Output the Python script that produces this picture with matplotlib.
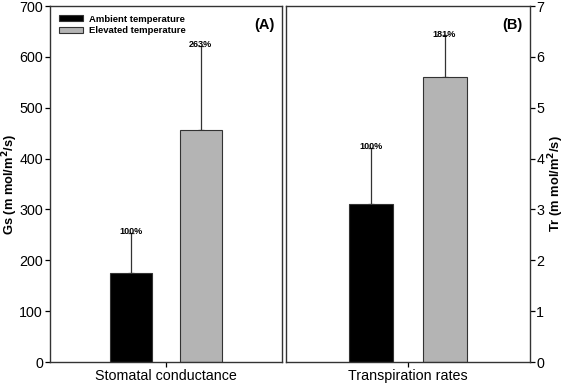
import matplotlib.pyplot as plt
import numpy as np

plt.rcParams['font.family'] = ['Liberation Sans', 'DejaVu Sans']

groups = ['Ambient temperature', 'Elevated temperature']
colors = ['black', '#b4b4b4']

gs_mean = [175, 457]
gs_err = [78, 165]
gs_pct = ['100%', '263%']

tr_mean = [3.1, 5.6]
tr_err = [1.1, 0.82]
tr_pct = ['100%', '181%']

fig = plt.figure(figsize=(5.7, 3.84), dpi=100)
ax1 = fig.add_axes([50/570, 22/384, 232/570, 356/384])
ax2 = fig.add_axes([286/570, 22/384, 244/570, 356/384])

offs = [-0.3, 0.3]
w = 0.36

def draw(ax, means, errs, pcts, ytxt):
    for i in range(2):
        ax.bar(offs[i], means[i], width=w, color=colors[i], edgecolor='#333333',
               linewidth=0.8, label=groups[i], zorder=2)
        ax.errorbar(offs[i], means[i], yerr=[[0], [errs[i]]], fmt='none',
                    ecolor='#333333', elinewidth=0.9, capsize=2.5, capthick=0.9, zorder=1)
        ax.text(offs[i], means[i] + errs[i] + ytxt, pcts[i], ha='center', va='bottom',
                fontsize=6.5, fontweight='bold')
    ax.set_xlim(-1, 1)
    ax.set_xticks([0])
    for s in ax.spines.values():
        s.set_linewidth(1.0)
        s.set_color('#333333')
    ax.tick_params(axis='both', labelsize=10.3, direction='out', length=3.5, width=0.9, pad=1.5)

draw(ax1, gs_mean, gs_err, gs_pct, -6)
ax1.set_ylim(0, 700)
ax1.set_yticks(np.arange(0, 701, 100))
ax1.set_xticklabels(['Stomatal conductance'])
ax1.set_ylabel('Gs (m mol/m$^\\mathbf{2}$/s)', fontsize=9.3, fontweight='bold')
ax1.yaxis.set_label_coords(-0.129, 0.5)
ax1.text(0.97, 0.965, '(A)', transform=ax1.transAxes, ha='right', va='top',
         fontsize=10.5, fontweight='bold')
ax1.legend(loc='upper left', frameon=False, prop={'size': 6.8, 'weight': 'bold'},
           handlelength=2.6, handleheight=0.6, handletextpad=0.6, labelspacing=0.3,
           borderaxespad=0.5, bbox_to_anchor=(0.0, 1.0))

draw(ax2, tr_mean, tr_err, tr_pct, -0.06)
ax2.set_ylim(0, 7)
ax2.set_yticks(np.arange(0, 8, 1))
ax2.yaxis.tick_right()
ax2.tick_params(axis='y', pad=1)
ax2.yaxis.set_label_position('right')
ax2.set_xticklabels(['Transpiration rates'])
ax2.set_ylabel('Tr (m mol/m$^\\mathbf{2}$/s)', fontsize=9.3, fontweight='bold', rotation=90)
ax2.yaxis.set_label_coords(1.066, 0.5)
ax2.text(0.97, 0.965, '(B)', transform=ax2.transAxes, ha='right', va='top',
         fontsize=10.5, fontweight='bold')

fig.savefig('out.png', dpi=100)
